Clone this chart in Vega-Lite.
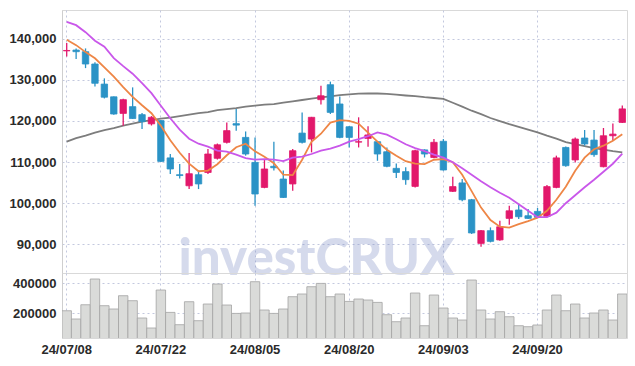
{
  "$schema": "https://vega.github.io/schema/vega-lite/v6.json",
  "padding": {"left": 8, "top": 9, "right": 9, "bottom": 5},
  "background": "white",
  "bounds": "flush",
  "spacing": 0,
  "config": {
    "view": {"stroke": "#d9d9d9", "strokeWidth": 1},
    "axis": {
      "labelFont": "Liberation Sans",
      "labelFontSize": 13,
      "labelFontWeight": "bold",
      "labelColor": "#2a2a2a",
      "gridColor": "#c3c8de",
      "gridDash": [2, 3],
      "gridWidth": 1,
      "ticks": false,
      "domainColor": "#cfcfcf",
      "title": null
    }
  },
  "data": {"values": [
    {"d":"24/07/08","o":137100,"h":139000,"l":135700,"c":137200,"v":215000,"m5":139800,"m20":144150,"m60":114950},
    {"d":"24/07/09","o":137300,"h":137700,"l":135100,"c":136900,"v":160000,"m5":138500,"m20":143370,"m60":115800},
    {"d":"24/07/10","o":136900,"h":137700,"l":132900,"c":133900,"v":255000,"m5":136800,"m20":141660,"m60":116410},
    {"d":"24/07/11","o":133900,"h":134300,"l":128400,"c":129200,"v":426700,"m5":135300,"m20":139590,"m60":117150},
    {"d":"24/07/12","o":129000,"h":130400,"l":125500,"c":125800,"v":248700,"m5":133100,"m20":138120,"m60":117760},
    {"d":"24/07/15","o":125900,"h":126000,"l":121500,"c":121700,"v":226700,"m5":130800,"m20":135320,"m60":118240},
    {"d":"24/07/16","o":121850,"h":125400,"l":118850,"c":125200,"v":315300,"m5":128250,"m20":133370,"m60":118850},
    {"d":"24/07/17","o":123500,"h":128200,"l":120500,"c":120600,"v":282000,"m5":125900,"m20":131540,"m60":119340},
    {"d":"24/07/18","o":121550,"h":121950,"l":118050,"c":119850,"v":166700,"m5":123850,"m20":129220,"m60":119830},
    {"d":"24/07/19","o":119300,"h":121200,"l":118900,"c":120900,"v":100000,"m5":121900,"m20":126780,"m60":120200},
    {"d":"24/07/22","o":120100,"h":120200,"l":110000,"c":110150,"v":353300,"m5":118850,"m20":123730,"m60":120560},
    {"d":"24/07/23","o":111000,"h":111950,"l":107050,"c":108300,"v":204000,"m5":115300,"m20":120680,"m60":120800},
    {"d":"24/07/24","o":106900,"h":109500,"l":106000,"c":106700,"v":122000,"m5":112250,"m20":117880,"m60":121170},
    {"d":"24/07/25","o":104200,"h":112200,"l":103400,"c":107150,"v":275300,"m5":109600,"m20":115680,"m60":121540},
    {"d":"24/07/26","o":106900,"h":107900,"l":103400,"c":104650,"v":148700,"m5":107750,"m20":114460,"m60":121900},
    {"d":"24/07/29","o":107450,"h":113150,"l":107050,"c":111950,"v":260000,"m5":107900,"m20":113730,"m60":122150},
    {"d":"24/07/30","o":110900,"h":114500,"l":110600,"c":114200,"v":393300,"m5":109450,"m20":112760,"m60":122630},
    {"d":"24/07/31","o":114800,"h":119650,"l":114500,"c":117650,"v":253300,"m5":111650,"m20":112510,"m60":122880},
    {"d":"24/08/01","o":119350,"h":122950,"l":117650,"c":119000,"v":197300,"m5":113600,"m20":111780,"m60":123120},
    {"d":"24/08/02","o":116000,"h":117450,"l":111550,"c":111950,"v":200000,"m5":114450,"m20":110930,"m60":123490},
    {"d":"24/08/05","o":109900,"h":116000,"l":99350,"c":102200,"v":408700,"m5":112600,"m20":110560,"m60":123730},
    {"d":"24/08/06","o":103800,"h":110750,"l":103600,"c":108300,"v":220000,"m5":111300,"m20":110680,"m60":123980},
    {"d":"24/08/07","o":108950,"h":114950,"l":107900,"c":108600,"v":197300,"m5":109700,"m20":110560,"m60":124100},
    {"d":"24/08/08","o":105850,"h":107900,"l":101200,"c":101350,"v":226700,"m5":106900,"m20":110200,"m60":124460},
    {"d":"24/08/09","o":104650,"h":113150,"l":103000,"c":112750,"v":308700,"m5":106800,"m20":111050,"m60":124780},
    {"d":"24/08/12","o":117050,"h":122100,"l":114500,"c":114800,"v":326700,"m5":110550,"m20":111290,"m60":125120},
    {"d":"24/08/13","o":115600,"h":121000,"l":112350,"c":120900,"v":375300,"m5":114950,"m20":111950,"m60":125440},
    {"d":"24/08/14","o":125200,"h":128600,"l":124000,"c":126150,"v":397300,"m5":116900,"m20":112760,"m60":125760},
    {"d":"24/08/16","o":128850,"h":129600,"l":121700,"c":122100,"v":308700,"m5":119600,"m20":113250,"m60":126000},
    {"d":"24/08/19","o":124150,"h":125950,"l":115800,"c":116000,"v":326700,"m5":120200,"m20":113980,"m60":126290},
    {"d":"24/08/20","o":118600,"h":118800,"l":113550,"c":116000,"v":277300,"m5":120050,"m20":114950,"m60":126490},
    {"d":"24/08/21","o":114850,"h":120900,"l":113550,"c":114950,"v":293300,"m5":119340,"m20":115560,"m60":126660},
    {"d":"24/08/22","o":115750,"h":118700,"l":113750,"c":116600,"v":286700,"m5":117150,"m20":116290,"m60":126730},
    {"d":"24/08/23","o":114950,"h":115100,"l":110300,"c":111950,"v":270700,"m5":114950,"m20":117220,"m60":126710},
    {"d":"24/08/26","o":112500,"h":113550,"l":108700,"c":108950,"v":188700,"m5":113000,"m20":116660,"m60":126590},
    {"d":"24/08/27","o":108450,"h":109650,"l":106100,"c":107450,"v":142000,"m5":111540,"m20":115560,"m60":126410},
    {"d":"24/08/28","o":107650,"h":108700,"l":104450,"c":105700,"v":166700,"m5":110200,"m20":114340,"m60":126220},
    {"d":"24/08/29","o":104050,"h":113000,"l":103800,"c":112750,"v":333300,"m5":109600,"m20":113370,"m60":126050},
    {"d":"24/08/30","o":112950,"h":113100,"l":111100,"c":111950,"v":115300,"m5":109500,"m20":112640,"m60":125800},
    {"d":"24/09/02","o":111100,"h":115600,"l":110900,"c":114800,"v":320000,"m5":110550,"m20":111780,"m60":125610},
    {"d":"24/09/03","o":115050,"h":115600,"l":107900,"c":108050,"v":233300,"m5":110680,"m20":111050,"m60":125370},
    {"d":"24/09/04","o":102850,"h":106400,"l":102700,"c":104000,"v":166700,"m5":109950,"m20":109950,"m60":124460},
    {"d":"24/09/05","o":104900,"h":105850,"l":100400,"c":100800,"v":153300,"m5":106900,"m20":108490,"m60":123490},
    {"d":"24/09/06","o":100800,"h":101000,"l":92450,"c":92700,"v":420000,"m5":102900,"m20":106900,"m60":122510},
    {"d":"24/09/09","o":90150,"h":93400,"l":89350,"c":93250,"v":220000,"m5":98880,"m20":105320,"m60":121660},
    {"d":"24/09/10","o":93250,"h":94050,"l":90400,"c":90650,"v":160000,"m5":95830,"m20":103850,"m60":120730},
    {"d":"24/09/11","o":91000,"h":95700,"l":90800,"c":94200,"v":208700,"m5":94220,"m20":102500,"m60":119950},
    {"d":"24/09/12","o":96250,"h":99350,"l":94700,"c":98100,"v":175300,"m5":93980,"m20":101290,"m60":119220},
    {"d":"24/09/13","o":98300,"h":99600,"l":96100,"c":96650,"v":115300,"m5":94830,"m20":99700,"m60":118560},
    {"d":"24/09/19","o":96900,"h":98550,"l":96100,"c":96250,"v":108700,"m5":95560,"m20":98120,"m60":117880},
    {"d":"24/09/20","o":97950,"h":98800,"l":96300,"c":96500,"v":120000,"m5":96420,"m20":96540,"m60":117220},
    {"d":"24/09/23","o":96750,"h":104400,"l":96500,"c":104000,"v":220000,"m5":98120,"m20":96540,"m60":116410},
    {"d":"24/09/24","o":103800,"h":111550,"l":103600,"c":111000,"v":320000,"m5":100800,"m20":97640,"m60":115680},
    {"d":"24/09/25","o":113550,"h":113800,"l":108850,"c":109100,"v":215300,"m5":103980,"m20":99950,"m60":114830},
    {"d":"24/09/26","o":110500,"h":116000,"l":109900,"c":115600,"v":260000,"m5":107880,"m20":101900,"m60":114340},
    {"d":"24/09/27","o":115850,"h":117800,"l":114000,"c":114400,"v":166700,"m5":111050,"m20":103850,"m60":113850},
    {"d":"24/09/30","o":115350,"h":117800,"l":111300,"c":111800,"v":200000,"m5":113120,"m20":105680,"m60":113370},
    {"d":"24/10/02","o":108850,"h":118300,"l":108700,"c":116400,"v":220000,"m5":113980,"m20":107630,"m60":113000},
    {"d":"24/10/04","o":116400,"h":119400,"l":115200,"c":116800,"v":153300,"m5":115200,"m20":109580,"m60":112640},
    {"d":"24/10/07","o":119650,"h":123750,"l":119500,"c":122950,"v":326700,"m5":116780,"m20":112020,"m60":112340}
  ]},
  "vconcat": [
    {
      "width": 565,
      "height": 263,
      "encoding": {
        "x": {
          "field": "d", "type": "ordinal", "sort": null,
          "scale": {"type": "band", "paddingInner": 0, "paddingOuter": 0},
          "axis": {"labels": false, "domain": false, "grid": true,
                   "values": ["24/07/08","24/07/22","24/08/05","24/08/20","24/09/03","24/09/20"]}
        }
      },
      "layer": [
        {
          "mark": {"type": "line", "color": "#7d7d7d", "strokeWidth": 1.8},
          "encoding": {"y": {"field": "m60", "type": "quantitative",
            "scale": {"domain": [82930, 147070], "nice": false, "zero": false},
            "axis": {"values": [90000,100000,110000,120000,130000,140000], "labelExpr": "format(datum.value, ',')", "grid": true, "domain": true, "labelPadding": 6}}}
        },
        {
          "mark": {"type": "rule", "strokeWidth": 1.3},
          "encoding": {
            "y": {"field": "l", "type": "quantitative"},
            "y2": {"field": "h"},
            "color": {"condition": {"test": "datum.c >= datum.o", "value": "#e2186b"}, "value": "#2b93c6"}
          }
        },
        {
          "mark": {"type": "bar", "size": 6.4, "strokeWidth": 0.8},
          "encoding": {
            "y": {"field": "o", "type": "quantitative"},
            "y2": {"field": "c"},
            "color": {"condition": {"test": "datum.c >= datum.o", "value": "#e2186b"}, "value": "#2b93c6"},
            "stroke": {"condition": {"test": "datum.c >= datum.o", "value": "#e2186b"}, "value": "#2b93c6"}
          }
        },
        {
          "mark": {"type": "line", "color": "#ee8646", "strokeWidth": 1.8},
          "encoding": {"y": {"field": "m5", "type": "quantitative"}}
        },
        {
          "mark": {"type": "line", "color": "#c957ea", "strokeWidth": 1.8},
          "encoding": {"y": {"field": "m20", "type": "quantitative"}}
        },
        {
          "data": {"values": [{"t": "investCRUX"}]},
          "mark": {"type": "text", "font": "Lato, Open Sans, Roboto", "fontWeight": 900, "fontSize": 51,
                   "color": "#8391c6", "opacity": 0.33, "align": "center", "baseline": "alphabetic", "dx": 5},
          "encoding": {
            "x": {"datum": "24/08/13"},
            "y": {"datum": 82500},
            "text": {"field": "t"}
          }
        }
      ]
    },
    {
      "width": 565,
      "height": 65,
      "mark": {"type": "bar", "fill": "#dadbd9", "stroke": "#a3a3a3", "strokeWidth": 0.8, "clip": true},
      "encoding": {
        "x": {
          "field": "d", "type": "ordinal", "sort": null,
          "scale": {"type": "band", "paddingInner": 0, "paddingOuter": 0},
          "axis": {"labels": true, "domain": false, "grid": true, "labelPadding": 5, "labelAngle": 0,
                   "values": ["24/07/08","24/07/22","24/08/05","24/08/20","24/09/03","24/09/20"]}
        },
        "y": {"field": "v", "type": "quantitative",
          "scale": {"domain": [33333, 466667], "nice": false, "zero": false},
          "axis": {"values": [200000, 400000], "format": "d", "grid": true, "domain": true, "labelPadding": 6}}
      }
    }
  ]
}
